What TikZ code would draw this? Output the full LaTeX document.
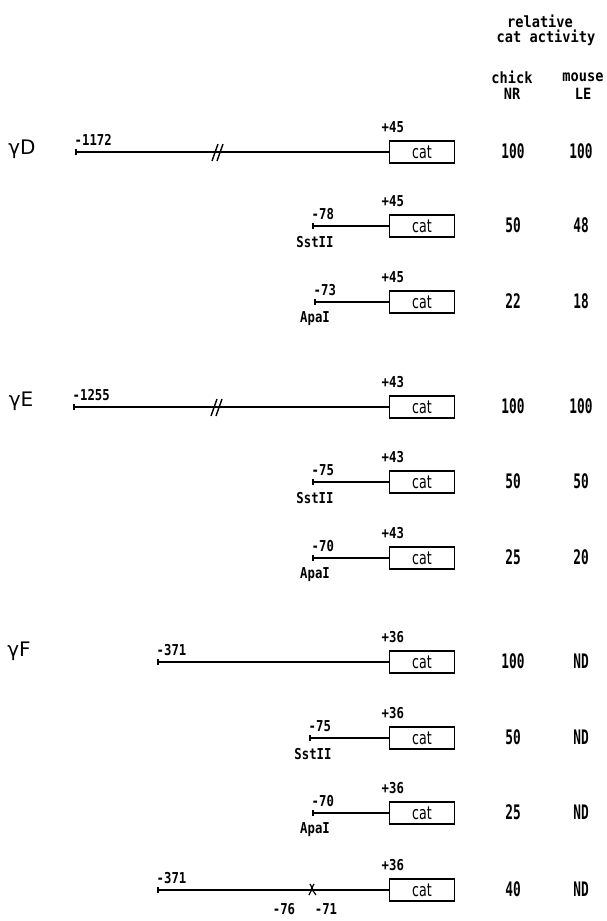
\documentclass[tikz,border=0pt]{standalone}
\usepackage{fontspec}
\setmainfont{DejaVu Sans}
\newfontfamily\numfont[FakeStretch=0.64]{DejaVu Sans Mono}
\newfontfamily\lblfont[FakeStretch=0.82]{DejaVu Sans Mono}
\newfontfamily\catfont[FakeStretch=0.7]{DejaVu Sans}
\newfontfamily\hdrfont[FakeStretch=0.88]{DejaVu Sans Mono}
\newcommand\generow[7]{%
  \coordinate (#1s) at (#3,#2);
  \node[catbox] (#1b) at (422,#2) {cat};
  \draw (#1s) -- (#1b.west);
  \draw ([yshift=-3pt]#1s) -- ([yshift=3pt]#1s);
  \node[lbl, anchor=south west] (#1l) at ([xshift=-2pt,yshift=6pt]#1s) {#4};
  \node[lbl, anchor=south] (#1p) at ([xshift=4pt,yshift=19pt]#1b.west) {#5};
  \node[num] (#1c) at (513,#2-1) {#6};
  \node[num] (#1m) at (581,#2-1) {#7};
}
\begin{document}
\begin{tikzpicture}[x=1pt,y=-1pt, line width=1.4pt,
  catbox/.style={draw, minimum width=65pt, minimum height=22pt, inner sep=0pt,
    font=\catfont\fontsize{18}{18}\selectfont},
  num/.style={font=\numfont\bfseries\fontsize{20}{20}\selectfont, inner sep=0pt},
  lbl/.style={font=\lblfont\bfseries\fontsize{15}{15}\selectfont, inner sep=0pt},
  gene/.style={font=\fontsize{20}{20}\selectfont, inner sep=0pt},
  hdr/.style={font=\hdrfont\bfseries\fontsize{15.5}{16}\selectfont, inner sep=0pt}]
\useasboundingbox (0,0) rectangle (607,921);

% header
\node[hdr] (h1) at (540,21) {relative};
\node[hdr] (h2) at (546,38) {cat activity};
\node[hdr] (h3) at (512,77) {chick};
\node[hdr] (h4) at (583,77) {mouse};
\node[hdr] (h5) at (512,94) {NR};
\node[hdr] (h6) at (583,94) {LE};

% gamma D
\node[gene] (gD) at (22,149) {γD};
\generow{d1}{152}{76}{-1172}{+45}{100}{100}
\coordinate (d1k) at (217,152);
\draw ([shift={(-5,9)}]d1k) -- ([shift={(1,-8)}]d1k);
\draw ([shift={(0,9)}]d1k) -- ([shift={(6,-8)}]d1k);
\generow{d2}{226}{313}{-78}{+45}{50}{48}
\node[lbl, anchor=north] (d2e) at ([xshift=2pt,yshift=-10pt]d2s) {SstII};
\generow{d3}{302}{315}{-73}{+45}{22}{18}
\node[lbl, anchor=north] (d3e) at ([xshift=0pt,yshift=-9pt]d3s) {ApaI};

% gamma E
\node[gene] (gE) at (21,401) {γE};
\generow{e1}{407}{74}{-1255}{+43}{100}{100}
\coordinate (e1k) at (216,407);
\draw ([shift={(-5,9)}]e1k) -- ([shift={(1,-8)}]e1k);
\draw ([shift={(0,9)}]e1k) -- ([shift={(6,-8)}]e1k);
\generow{e2}{482}{313}{-75}{+43}{50}{50}
\node[lbl, anchor=north] (e2e) at ([xshift=2pt,yshift=-10pt]e2s) {SstII};
\generow{e3}{558}{313}{-70}{+43}{25}{20}
\node[lbl, anchor=north] (e3e) at ([xshift=2pt,yshift=-9pt]e3s) {ApaI};

% gamma F
\node[gene] (gF) at (19,651) {γF};
\generow{f1}{662}{158}{-371}{+36}{100}{ND}
\generow{f2}{738}{310}{-75}{+36}{50}{ND}
\node[lbl, anchor=north] (f2e) at ([xshift=3pt,yshift=-10pt]f2s) {SstII};
\generow{f3}{813}{313}{-70}{+36}{25}{ND}
\node[lbl, anchor=north] (f3e) at ([xshift=2pt,yshift=-9pt]f3s) {ApaI};
\generow{f4}{890}{158}{-371}{+36}{40}{ND}
\coordinate (f4k) at (312,890);
\draw[line width=1.2pt] ([shift={(-2,-6)}]f4k) .. controls ([shift={(0,-3)}]f4k) .. ([shift={(-0.5,0)}]f4k) -- ([shift={(-3,5)}]f4k);
\draw[line width=1.2pt] ([shift={(2,-6)}]f4k) .. controls ([shift={(0,-3)}]f4k) .. ([shift={(0.5,0)}]f4k) -- ([shift={(4,5)}]f4k);
\node[lbl, anchor=north] (f4a) at (284,903) {-76};
\node[lbl, anchor=north] (f4b) at (326,903) {-71};
\end{tikzpicture}
\end{document}
